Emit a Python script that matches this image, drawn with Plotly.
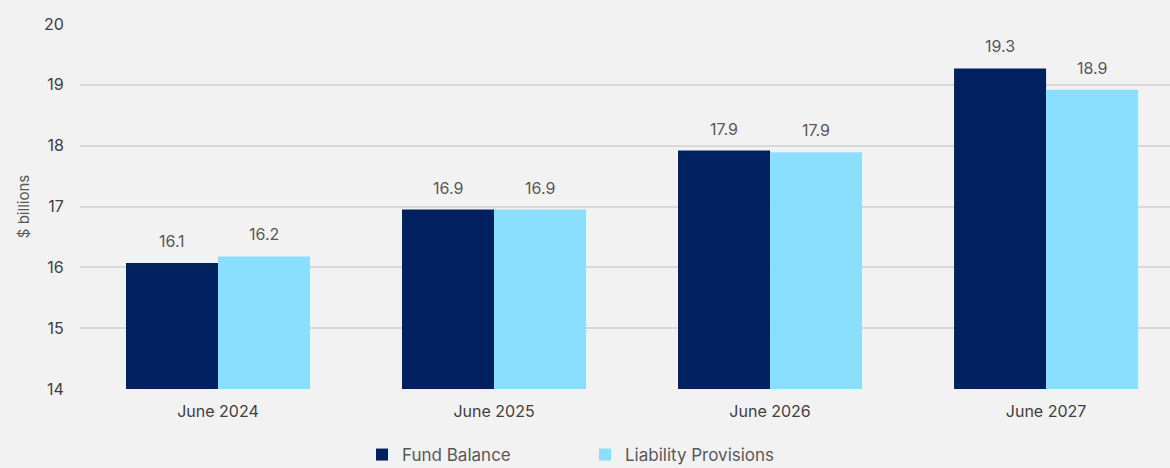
import plotly.graph_objects as go

periods = ["June 2024", "June 2025", "June 2026", "June 2027"]
fund_balance = [16.07, 16.95, 17.92, 19.27]
liability_provisions = [16.18, 16.95, 17.89, 18.92]
y_ticks = [14, 15, 16, 17, 18, 19, 20]

NAVY = "#002060"
SKY = "#8ADFFF"
TEXT = "#595959"
FONT = "Inter"

fig = go.Figure()
fig.add_trace(go.Bar(name="Fund Balance", x=periods, y=fund_balance,
                     marker=dict(color=NAVY, line=dict(width=0))))
fig.add_trace(go.Bar(name="Liability Provisions", x=periods, y=liability_provisions,
                     marker=dict(color=SKY, line=dict(width=0))))

# value labels above each bar
for series, shift in ((fund_balance, -46), (liability_provisions, 46)):
    for p, v in zip(periods, series):
        fig.add_annotation(x=p, y=v, xref="x", yref="y", text=f"{v:.1f}",
                           showarrow=False, yanchor="bottom", xshift=shift, yshift=10,
                           font=dict(family=FONT, size=16, color=TEXT))

fig.update_layout(
    width=1170, height=468,
    paper_bgcolor="#F2F2F2", plot_bgcolor="#F2F2F2",
    margin=dict(l=80, r=0, t=24, b=79),
    barmode="group", bargap=1/3, bargroupgap=0,
    font=dict(family=FONT, size=16, color=TEXT),
    showlegend=True,
    legend=dict(orientation="h", xref="container", yref="container",
                x=0.5, xanchor="center", y=13 / 468, yanchor="middle",
                entrywidth=178, entrywidthmode="pixels",
                font=dict(family=FONT, size=17, color=TEXT),
                itemwidth=30, tracegroupgap=0),
    hovermode=False,
)
fig.update_xaxes(range=[-0.5, 3.449], showgrid=False, zeroline=False,
                 ticks="outside", ticklen=8, tickcolor="rgba(0,0,0,0)",
                 tickfont=dict(family=FONT, size=16, color="#404040"),
                 showline=False)
fig.update_yaxes(range=[14, 20], tickvals=y_ticks, showgrid=True,
                 gridcolor="#D9D9D9", gridwidth=1.5, zeroline=False,
                 ticks="outside", ticklen=12, tickcolor="rgba(0,0,0,0)",
                 tickfont=dict(family=FONT, size=16, color="#404040"),
                 title=dict(text="$ billions", standoff=10,
                            font=dict(family=FONT, size=15, color=TEXT)))

fig.write_html("out.html")
